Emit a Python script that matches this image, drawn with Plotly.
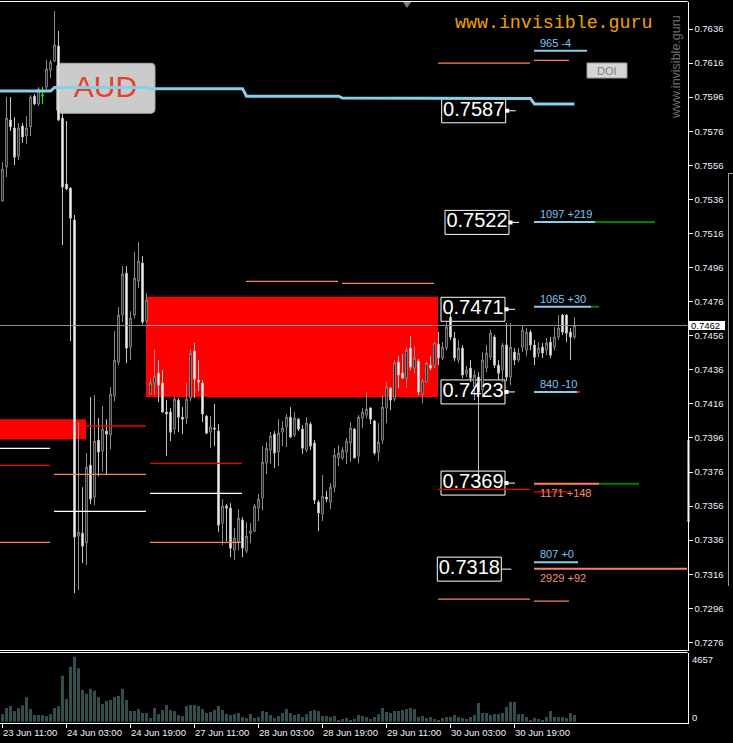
import plotly.graph_objects as go

# ------------------------------------------------------------------ data
bar_index = list(range(144))

opens = [0.75350, 0.75550, 0.75826, 0.75779, 0.75614, 0.75790, 0.75732, 0.75785, 0.75966, 0.75920,
         0.75966, 0.76019, 0.76119, 0.76172, 0.76260, 0.75837, 0.75450, 0.75426, 0.75239, 0.73384,
         0.73401, 0.73343, 0.73800, 0.73613, 0.73947, 0.73883, 0.74000, 0.73977, 0.74205, 0.74405,
         0.74681, 0.74927, 0.74493, 0.74681, 0.74881, 0.74986, 0.74646, 0.74217, 0.74282, 0.74340,
         0.74282, 0.74112, 0.74112, 0.74012, 0.74182, 0.74082, 0.74076, 0.74194, 0.74470, 0.74299,
         0.74282, 0.74088, 0.73994, 0.74018, 0.74000, 0.73460, 0.73560, 0.73548, 0.73301, 0.73348,
         0.73478, 0.73296, 0.73401, 0.73413, 0.73548, 0.73607, 0.73812, 0.73888, 0.73982, 0.73877,
         0.73994, 0.74024, 0.74082, 0.73977, 0.74070, 0.74012, 0.73888, 0.74041, 0.73930, 0.73583,
         0.73513, 0.73613, 0.73583, 0.73671, 0.73842, 0.73842, 0.73877, 0.73930, 0.74012, 0.73853,
         0.74076, 0.74094, 0.74135, 0.74059, 0.73877, 0.73947, 0.74135, 0.74252, 0.74188, 0.74405,
         0.74340, 0.74311, 0.74487, 0.74370, 0.74411, 0.74217, 0.74288, 0.74387, 0.74382, 0.74511,
         0.74429, 0.74487, 0.74669, 0.74546, 0.74417, 0.74487, 0.74335, 0.74370, 0.74258, 0.74317,
         0.74241, 0.74370, 0.74434, 0.74552, 0.74387, 0.74358, 0.74505, 0.74317, 0.74464, 0.74417,
         0.74493, 0.74475, 0.74581, 0.74505, 0.74458, 0.74493, 0.74475, 0.74522, 0.74493, 0.74552,
         0.74681, 0.74681, 0.74581, 0.74552]
highs = [0.75579, 0.75961, 0.75961, 0.75843, 0.75808, 0.75808, 0.75849, 0.75972, 0.75978, 0.76019,
         0.76019, 0.76178, 0.76178, 0.76465, 0.76348, 0.75908, 0.75820, 0.75432, 0.75268, 0.74053,
         0.73671, 0.73871, 0.74200, 0.74211, 0.74076, 0.74147, 0.74070, 0.74258, 0.74587, 0.74728,
         0.74969, 0.74969, 0.74704, 0.75051, 0.75109, 0.75027, 0.74810, 0.74311, 0.74481, 0.74417,
         0.74358, 0.74182, 0.74135, 0.74200, 0.74194, 0.74141, 0.74282, 0.74481, 0.74517, 0.74417,
         0.74299, 0.74094, 0.74088, 0.74159, 0.74041, 0.73601, 0.73572, 0.73577, 0.73431, 0.73542,
         0.73495, 0.73466, 0.73460, 0.73572, 0.73630, 0.73912, 0.73935, 0.73994, 0.74000, 0.74070,
         0.74059, 0.74100, 0.74141, 0.74112, 0.74076, 0.74035, 0.74082, 0.74053, 0.73947, 0.73595,
         0.73742, 0.73648, 0.73695, 0.73900, 0.73918, 0.73906, 0.73959, 0.74053, 0.74018, 0.74094,
         0.74135, 0.74229, 0.74141, 0.74065, 0.74047, 0.74211, 0.74288, 0.74258, 0.74417, 0.74440,
         0.74452, 0.74493, 0.74558, 0.74499, 0.74423, 0.74305, 0.74405, 0.74440, 0.74522, 0.74581,
         0.74522, 0.74640, 0.74699, 0.74581, 0.74534, 0.74505, 0.74382, 0.74417, 0.74358, 0.74346,
         0.74464, 0.74505, 0.74593, 0.74564, 0.74417, 0.74517, 0.74634, 0.74634, 0.74487, 0.74487,
         0.74616, 0.74605, 0.74593, 0.74534, 0.74522, 0.74517, 0.74546, 0.74552, 0.74611, 0.74681,
         0.74687, 0.74687, 0.74605, 0.74669]
lows = [0.75350, 0.75491, 0.75761, 0.75561, 0.75591, 0.75691, 0.75685, 0.75732, 0.75914, 0.75908,
        0.75920, 0.75990, 0.76072, 0.76166, 0.75820, 0.75092, 0.75415, 0.74528, 0.73049, 0.73067,
        0.73225, 0.73213, 0.73572, 0.73566, 0.73736, 0.73765, 0.73748, 0.73894, 0.74176, 0.74387,
        0.74640, 0.74399, 0.74417, 0.74663, 0.74839, 0.74628, 0.74634, 0.74211, 0.74211, 0.74170,
        0.74106, 0.73853, 0.73941, 0.73982, 0.73994, 0.73982, 0.74041, 0.74176, 0.74194, 0.74235,
        0.74053, 0.73982, 0.73900, 0.73912, 0.73407, 0.73331, 0.73354, 0.73260, 0.73243, 0.73301,
        0.73260, 0.73284, 0.73343, 0.73407, 0.73472, 0.73536, 0.73748, 0.73806, 0.73783, 0.73795,
        0.73912, 0.73906, 0.73959, 0.73965, 0.74000, 0.73865, 0.73877, 0.73888, 0.73572, 0.73413,
        0.73472, 0.73583, 0.73542, 0.73642, 0.73795, 0.73830, 0.73806, 0.73818, 0.73842, 0.73812,
        0.74018, 0.74076, 0.74041, 0.73859, 0.73824, 0.73924, 0.74047, 0.74123, 0.74176, 0.74252,
        0.74311, 0.74252, 0.74358, 0.74340, 0.74211, 0.74164, 0.74282, 0.74358, 0.74370, 0.74387,
        0.74417, 0.74475, 0.74534, 0.74411, 0.74399, 0.74311, 0.74317, 0.74288, 0.74182, 0.73695,
        0.74211, 0.74346, 0.74417, 0.74370, 0.74299, 0.74288, 0.74294, 0.74270, 0.74387, 0.74405,
        0.74464, 0.74440, 0.74475, 0.74387, 0.74434, 0.74429, 0.74446, 0.74429, 0.74475, 0.74534,
        0.74564, 0.74522, 0.74417, 0.74540]
closes = [0.75538, 0.75837, 0.75785, 0.75608, 0.75779, 0.75726, 0.75779, 0.75961, 0.75920, 0.76008,
          0.75972, 0.76125, 0.76166, 0.76266, 0.75826, 0.75432, 0.75421, 0.75250, 0.73378, 0.73407,
          0.73325, 0.73789, 0.73601, 0.73941, 0.73877, 0.74012, 0.73982, 0.74217, 0.74417, 0.74681,
          0.74922, 0.74487, 0.74663, 0.74898, 0.74998, 0.74640, 0.74769, 0.74282, 0.74323, 0.74270,
          0.74112, 0.74100, 0.73994, 0.74188, 0.74082, 0.74070, 0.74188, 0.74458, 0.74305, 0.74288,
          0.74100, 0.73988, 0.74024, 0.74012, 0.73448, 0.73560, 0.73548, 0.73313, 0.73372, 0.73489,
          0.73313, 0.73384, 0.73413, 0.73560, 0.73601, 0.73818, 0.73900, 0.73971, 0.73871, 0.73988,
          0.74018, 0.74082, 0.73965, 0.74076, 0.74012, 0.73900, 0.74047, 0.73912, 0.73595, 0.73519,
          0.73618, 0.73601, 0.73671, 0.73859, 0.73871, 0.73888, 0.73941, 0.74018, 0.73842, 0.74082,
          0.74112, 0.74129, 0.74070, 0.73871, 0.73935, 0.74141, 0.74258, 0.74182, 0.74399, 0.74329,
          0.74311, 0.74475, 0.74376, 0.74429, 0.74229, 0.74294, 0.74399, 0.74370, 0.74517, 0.74429,
          0.74493, 0.74611, 0.74552, 0.74429, 0.74487, 0.74329, 0.74358, 0.74311, 0.74329, 0.74229,
          0.74417, 0.74458, 0.74575, 0.74387, 0.74340, 0.74505, 0.74317, 0.74493, 0.74417, 0.74458,
          0.74593, 0.74581, 0.74505, 0.74434, 0.74487, 0.74458, 0.74517, 0.74446, 0.74552, 0.74605,
          0.74581, 0.74575, 0.74552, 0.74620]
volumes = [554, 986, 1130, 770, 958, 1174, 1750, 914, 482, 482,
           482, 410, 554, 986, 1130, 3290, 1634, 3938, 4657, 3838,
           2282, 1994, 2354, 2210, 1778, 1274, 1490, 1562, 1778, 1850,
           2354, 1562, 770, 770, 914, 626, 626, 266, 986, 554,
           842, 1202, 842, 770, 482, 410, 1130, 1202, 1202, 1130,
           914, 626, 698, 842, 1130, 842, 554, 482, 554, 626,
           338, 266, 554, 266, 338, 770, 698, 482, 266, 410,
           626, 914, 626, 482, 554, 338, 554, 770, 842, 770,
           410, 410, 338, 410, 122, 194, 266, 122, 194, 482,
           410, 338, 194, 338, 554, 986, 698, 626, 770, 770,
           842, 914, 986, 914, 338, 410, 266, 338, 194, 122,
           266, 338, 338, 482, 338, 266, 194, 338, 482, 1346,
           626, 626, 482, 554, 554, 626, 1058, 1418, 1418, 554,
           554, 338, 122, 266, 194, 122, 338, 770, 338, 338,
           338, 266, 626, 482]
highlight_bars = [10]          # bar painted green by the indicator

price_ticks = [0.7636, 0.7616, 0.7596, 0.7576, 0.7556, 0.7536, 0.7516, 0.7496, 0.7476, 0.7456,
               0.7436, 0.7416, 0.7396, 0.7376, 0.7356, 0.7336, 0.7316, 0.7296, 0.7276]
time_tick_bars = [0, 16, 32, 48, 64, 80, 96, 112, 128]
time_tick_labels = ['23 Jun 11:00', '24 Jun 03:00', '24 Jun 19:00', '27 Jun 11:00', '28 Jun 03:00',
                    '28 Jun 19:00', '29 Jun 11:00', '30 Jun 03:00', '30 Jun 19:00']
volume_max_label = 4657

# daily lines
day_names = ['23 Jun', '24 Jun', '27 Jun', '28 Jun', '29 Jun', '30 Jun', '1 Jul']
day_first_bar = [-11, 13, 37, 61, 85, 109, 133]
daily_ma = [0.75996, 0.76016, 0.76010, 0.75966, 0.75955, 0.75952, 0.75920]

level_day = [0, 0, 0, 1, 1, 2, 2, 2, 3, 4, 5, 5, 5, 6, 6, 6]
level_price = [0.73899, 0.73799, 0.73347, 0.73746, 0.73529, 0.73811, 0.73635, 0.73347,
               0.74879, 0.74867, 0.76160, 0.73014, 0.73658, 0.76176, 0.73002, 0.73644]
level_kind = ['white', 'red', 'salmon', 'salmon', 'white', 'red', 'white', 'salmon',
              'salmon', 'salmon', 'salmon', 'salmon', 'red', 'salmon', 'salmon', 'red']

zone_start_bar = [-11, 36]
zone_end_bar = [21, 109]
zone_top = [0.74070, 0.74788]
zone_bottom = [0.73953, 0.74200]
zone_tail_price = 0.74030      # broken zone continues as a thin line to end of day

label_text = ['0.7587', '0.7522', '0.7471', '0.7423', '0.7369', '0.7318']
label_level = [0.75880, 0.75225, 0.74715, 0.74230, 0.73695, 0.73190]

info_text = ['965 -4', '1097 +219', '1065 +30', '840 -10', '1171 +148', '807 +0', '2929 +92']
info_level = [0.76232, 0.75227, 0.74730, 0.74229, 0.73691, 0.73231, 0.73192]
info_kind = ['blue', 'blue', 'blue', 'blue', 'salmon', 'blue', 'salmon']
info_text_below = [False, False, False, False, True, False, True]

# ------------------------------------------------------------------ layout constants
W, H = 733, 743
X0_PX, BAR_PX = 2.5, 4.0
REF_PRICE, REF_PX, PX_PER_UNIT = 0.7636, 29.0, 17039.0
VOL_ZERO_PX, VOL_TOP_PX = 721.7, 656.7
PLOT_R = 687.5
MAIN_T, MAIN_B = 1.5, 650.5
VOL_T, VOL_B = 652.5, 722.5

label_left_px = [441.7, 445.0, 441.0, 441.0, 441.0, 437.3]
label_square = [True, True, True, True, True, False]
info_start_px = 534
info_end_px = [587, 595, 591, 577, 599, 578, 687]
ext_end_px = [None, 655, 599, 580, 639, None, None]
ext_kind = [None, 'green', 'green', 'red', 'green', None, None]
current_day_end_px = 569

COL = {'white': '#ffffff', 'red': '#f00000', 'salmon': '#ff8060', 'blue': '#87ceeb',
       'green': '#008000', 'bluetext': '#7cc4f0', 'salmontext': '#f09070'}
FONT = 'Liberation Sans, Arial, sans-serif'


def bar_at(px):
    return (px - X0_PX) / BAR_PX


def price_at(py):
    return REF_PRICE - (py - REF_PX) / PX_PER_UNIT


def dprice(px):
    return px / PX_PER_UNIT


def vol_at(py):
    return (VOL_ZERO_PX - py) * volume_max_label / (VOL_ZERO_PX - VOL_TOP_PX)


def pxx(x):
    return x / W


def pxy(y):
    return 1 - y / H


fig = go.Figure()
shapes = []
annotations = []

# zones (red rectangles, behind everything)
for s, e, t, b in zip(zone_start_bar, zone_end_bar, zone_top, zone_bottom):
    shapes.append(dict(type='rect', xref='x', yref='y', x0=s - 0.125, x1=e - 0.125, y0=b, y1=t,
                       fillcolor='#ff0000', line=dict(width=0), layer='below'))

# price label boxes (behind candles)
for left, lvl in zip(label_left_px, label_level):
    shapes.append(dict(type='rect', xref='x', yref='y', x0=bar_at(left), x1=bar_at(left + 64),
                       y0=lvl - dprice(12), y1=lvl + dprice(12), fillcolor='#000000',
                       line=dict(color='#ffffff', width=1), layer='below'))

# AUD rounded box (in axis coordinates, so it sits under the traces)
x0, x1, y0, y1, r = 56.7, 155.0, 63.3, 113.3, 4
pts = [('M', x0 + r, y0), ('L', x1 - r, y0), ('Q', x1, y0, x1, y0 + r), ('L', x1, y1 - r),
       ('Q', x1, y1, x1 - r, y1), ('L', x0 + r, y1), ('Q', x0, y1, x0, y1 - r), ('L', x0, y0 + r),
       ('Q', x0, y0, x0 + r, y0)]
path = ''
for p in pts:
    coords = p[1:]
    parts = [f'{bar_at(coords[k]):.4f},{price_at(coords[k + 1]):.6f}' for k in range(0, len(coords), 2)]
    path += p[0] + ' ' + ' '.join(parts) + ' '
path += 'Z'
shapes.append(dict(type='path', xref='x', yref='y', path=path, fillcolor='#cbcbcb',
                   line=dict(color='#a8a8a8', width=1), layer='below'))

# AUD text (below lines and candles)
fig.add_trace(go.Scatter(x=[bar_at(105.5)], y=[price_at(89.5)], mode='text', text=['AUD'],
                         textfont=dict(family=FONT, size=30, color='#e8402f'), hoverinfo='skip'))

# price label texts
fig.add_trace(go.Scatter(x=[bar_at(l + 32) for l in label_left_px], y=label_level, mode='text',
                         text=label_text, textposition='middle center',
                         textfont=dict(family=FONT, size=20, color='#ffffff'), hoverinfo='skip'))
# label markers
mx, my = [], []
sqx, sqy = [], []
for left, lvl, sq in zip(label_left_px, label_level, label_square):
    mx += [bar_at(left + 64), bar_at(left + 74), None]
    my += [lvl, lvl, None]
    if sq:
        sqx.append(bar_at(left + 65.5))
        sqy.append(lvl)
fig.add_trace(go.Scatter(x=mx, y=my, mode='lines', line=dict(color='#ffffff', width=1), hoverinfo='skip'))
fig.add_trace(go.Scatter(x=sqx, y=sqy, mode='markers', marker=dict(symbol='square', size=4, color='#ffffff'),
                         hoverinfo='skip'))

# daily level segments
segs = {'white': ([], []), 'red': ([], []), 'salmon': ([], [])}
cur_end = bar_at(current_day_end_px)
for d, p, k in zip(level_day, level_price, level_kind):
    xs, ys = segs[k]
    a = day_first_bar[d] - 0.125
    b = min(a + 23, cur_end)
    xs += [a, b, None]
    ys += [p, p, None]
xs, ys = segs['red']
xs += [zone_end_bar[0] - 0.125, day_first_bar[1] + 22.875, None]
ys += [zone_tail_price, zone_tail_price, None]
for k, (xs, ys) in segs.items():
    fig.add_trace(go.Scatter(x=xs, y=ys, mode='lines', line=dict(color=COL[k], width=1.3), hoverinfo='skip'))

# info rows on the right
for txt, lvl, kind, below, e, ee, ek in zip(info_text, info_level, info_kind, info_text_below,
                                            info_end_px, ext_end_px, ext_kind):
    fig.add_trace(go.Scatter(x=[bar_at(info_start_px), bar_at(e)], y=[lvl, lvl], mode='lines',
                             line=dict(color=COL[kind], width=2), hoverinfo='skip'))
    if ee is not None:
        fig.add_trace(go.Scatter(x=[bar_at(e), bar_at(ee)], y=[lvl, lvl], mode='lines',
                                 line=dict(color=COL[ek], width=2), hoverinfo='skip'))
    annotations.append(dict(x=bar_at(538), y=lvl, xref='x', yref='y', text=txt, showarrow=False,
                            xanchor='left', yanchor='top' if below else 'bottom',
                            yshift=-1 if below else 0,
                            font=dict(family=FONT, size=11,
                                      color=COL['salmontext'] if kind == 'salmon' else COL['bluetext'])))

# current price line
last_price = closes[-1]
fig.add_trace(go.Scatter(x=[bar_at(0), bar_at(PLOT_R)], y=[last_price, last_price], mode='lines',
                         line=dict(color='#8494a8', width=1), hoverinfo='skip'))

# daily MA line
ma_x, ma_y = [-1], [daily_ma[0]]
for i in bar_index:
    d = max(k for k, s in enumerate(day_first_bar) if s <= i)
    ma_x.append(i)
    ma_y.append(daily_ma[d])
fig.add_trace(go.Scatter(x=ma_x, y=ma_y, mode='lines', line=dict(color='#87ceeb', width=3), hoverinfo='skip'))

# candles
normal = [i for i in bar_index if i not in highlight_bars]
fig.add_trace(go.Candlestick(
    x=[bar_index[i] for i in normal], open=[opens[i] for i in normal], high=[highs[i] for i in normal],
    low=[lows[i] for i in normal], close=[closes[i] for i in normal],
    increasing=dict(line=dict(color='#8c8c8c', width=1), fillcolor='#000000'),
    decreasing=dict(line=dict(color='#c4c4c4', width=1), fillcolor='#ffffff'),
    whiskerwidth=0, hoverinfo='skip'))
fig.add_trace(go.Candlestick(
    x=[bar_index[i] for i in highlight_bars], open=[opens[i] for i in highlight_bars],
    high=[highs[i] for i in highlight_bars], low=[lows[i] for i in highlight_bars],
    close=[closes[i] for i in highlight_bars],
    increasing=dict(line=dict(color='#00ff00', width=1), fillcolor='#00ff00'),
    decreasing=dict(line=dict(color='#00ff00', width=1), fillcolor='#00ff00'),
    whiskerwidth=0, hoverinfo='skip'))

# volume
fig.add_trace(go.Bar(x=bar_index, y=volumes, yaxis='y2', width=0.75,
                     marker=dict(color='#2f4f4f', line=dict(width=0)), hoverinfo='skip'))

# frame lines
for yy in (MAIN_T, MAIN_B, VOL_T):
    shapes.append(dict(type='line', xref='paper', yref='paper', x0=0, x1=pxx(PLOT_R), y0=pxy(yy), y1=pxy(yy),
                       line=dict(color='#ffffff', width=1)))
# chart shift triangle
shapes.append(dict(type='path', xref='paper', yref='paper',
                   path=f'M {pxx(403):.5f},{pxy(2):.5f} L {pxx(411):.5f},{pxy(2):.5f} L {pxx(407):.5f},{pxy(8):.5f} Z',
                   fillcolor='#808080', line=dict(width=0)))
# white bar on price scale
shapes.append(dict(type='line', xref='paper', yref='paper', x0=pxx(688.5), x1=pxx(688.5),
                   y0=pxy(440), y1=pxy(522), line=dict(color='#ffffff', width=2)))
# neighbouring window edge
shapes.append(dict(type='line', xref='paper', yref='paper', x0=pxx(728.5), x1=pxx(728.5),
                   y0=pxy(173), y1=pxy(586), line=dict(color='#9a9a9a', width=1)))
shapes.append(dict(type='line', xref='paper', yref='paper', x0=pxx(728.5), x1=pxx(733),
                   y0=pxy(173.5), y1=pxy(173.5), line=dict(color='#9a9a9a', width=1)))
# DOI button
shapes.append(dict(type='rect', xref='paper', yref='paper', x0=pxx(587), x1=pxx(627), y0=pxy(78), y1=pxy(63),
                   fillcolor='#d6d6d6', line=dict(color='#9a9a9a', width=1)))
annotations.append(dict(x=pxx(607), y=pxy(71), xref='paper', yref='paper', text='DOI', showarrow=False,
                        xanchor='center', yanchor='middle',
                        font=dict(family=FONT, size=11, color='#808080')))
# current price tag
shapes.append(dict(type='rect', xref='paper', yref='y', x0=pxx(688.3), x1=pxx(725),
                   y0=last_price - dprice(4.6), y1=last_price + dprice(4.6), fillcolor='#ffffff',
                   line=dict(width=0)))
annotations.append(dict(x=pxx(689), y=last_price, xref='paper', yref='y', text=f'{last_price:.4f}',
                        showarrow=False, xanchor='left', yanchor='middle',
                        font=dict(family=FONT, size=9.5, color='#000000')))

# watermark texts
annotations.append(dict(x=pxx(453), y=pxy(23), xref='paper', yref='paper', text='www.invisible.guru',
                        showarrow=False, xanchor='left', yanchor='middle',
                        font=dict(family='Liberation Mono, Courier New, monospace', size=18.3, color='#f0a000')))
annotations.append(dict(x=pxx(676), y=pxy(67), xref='paper', yref='paper', text='www.invisible.guru',
                        showarrow=False, textangle=-90, xanchor='center', yanchor='middle',
                        font=dict(family=FONT, size=12.5, color='#6e6e6e')))

# time labels
for tb, tl in zip(time_tick_bars, time_tick_labels):
    annotations.append(dict(x=tb, y=pxy(732), xref='x', yref='paper', text=tl, showarrow=False,
                            xanchor='left', yanchor='middle', xshift=-2,
                            font=dict(family=FONT, size=9.5, color='#eef2ff')))
# volume scale labels
annotations.append(dict(x=pxx(690), y=pxy(659), xref='paper', yref='paper', text=str(volume_max_label),
                        showarrow=False, xanchor='left', yanchor='middle',
                        font=dict(family=FONT, size=9.5, color='#eef2ff')))
annotations.append(dict(x=pxx(690), y=pxy(717), xref='paper', yref='paper', text='0',
                        showarrow=False, xanchor='left', yanchor='middle',
                        font=dict(family=FONT, size=9.5, color='#eef2ff')))

fig.update_layout(
    width=W, height=H, margin=dict(l=0, r=0, t=0, b=0),
    paper_bgcolor='#000000', plot_bgcolor='#000000', showlegend=False, hovermode=False,
    font=dict(family=FONT, color='#ffffff'), boxgap=0.4,
    xaxis=dict(domain=[0, pxx(PLOT_R)], range=[bar_at(0), bar_at(PLOT_R)], anchor='y2',
               showgrid=False, zeroline=False, tickmode='array', tickvals=time_tick_bars,
               ticks='outside', ticklen=4, tickcolor='#ffffff', showticklabels=False,
               showline=True, linecolor='#ffffff', linewidth=1, rangeslider=dict(visible=False),
               fixedrange=True),
    yaxis=dict(domain=[pxy(MAIN_B), pxy(MAIN_T)], range=[price_at(MAIN_B), price_at(MAIN_T)],
               side='right', anchor='x', showgrid=False, zeroline=False, tickmode='array',
               tickvals=price_ticks, ticktext=[f'{v:.4f}' for v in price_ticks],
               ticks='outside', ticklen=4, tickcolor='#ffffff',
               tickfont=dict(family=FONT, size=9.5, color='#eef2ff'),
               showline=True, linecolor='#ffffff', linewidth=1, fixedrange=True),
    yaxis2=dict(domain=[pxy(VOL_B), pxy(VOL_T)], range=[vol_at(VOL_B), vol_at(VOL_T)],
                side='right', anchor='x', showgrid=False, zeroline=False, showticklabels=False,
                ticks='', showline=True, linecolor='#ffffff', linewidth=1, fixedrange=True),
    shapes=shapes, annotations=annotations,
)

fig.write_html('out.html', config={'displayModeBar': False},
               post_script="document.body.style.margin='0';document.body.style.overflow='hidden';"
                           "document.body.style.background='#000';")
